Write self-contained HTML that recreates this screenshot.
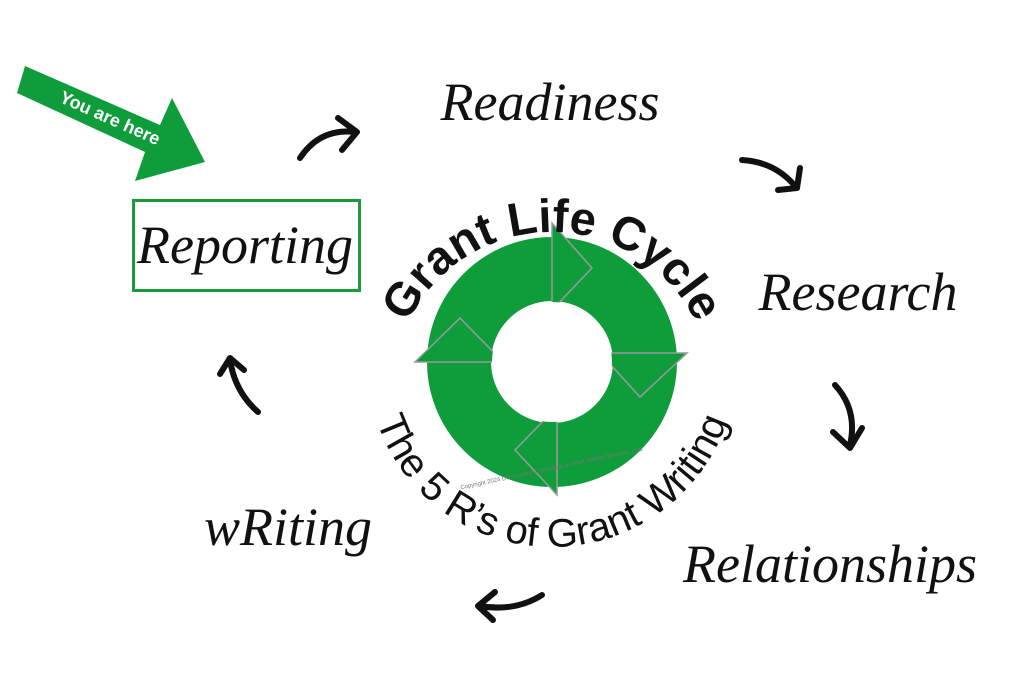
<!DOCTYPE html>
<html><head><meta charset="utf-8"><style>
html,body{margin:0;padding:0;background:#fff;}
svg{display:block}
.c{font-family:"Liberation Serif",serif;font-style:italic;fill:#111;}
</style></head><body>
<svg width="1024" height="692" viewBox="0 0 1024 692" xmlns="http://www.w3.org/2000/svg">
<defs>
<path id="top" d="M 392 392 A 160 160 0 0 1 712 392"/>
<path id="bot" d="M 367 362 A 185 185 0 0 0 737 362"/>
</defs>
<polygon points="25,66 160,125 172,98 205,162 135,181 145,152 17,93" fill="#0f9d3c"/>
<text x="110" y="124" transform="rotate(24 110 118)" text-anchor="middle" font-family="Liberation Sans,sans-serif" font-weight="bold" font-size="18" fill="#fff">You are here</text>
<rect x="133.5" y="200.5" width="226" height="90" fill="none" stroke="#1a9a3a" stroke-width="3"/>
<text class="c" x="245" y="263" font-size="54" text-anchor="middle">Reporting</text>
<text class="c" x="550" y="120" font-size="54" text-anchor="middle">Readiness</text>
<text class="c" x="858" y="310" font-size="54" text-anchor="middle">Research</text>
<text class="c" x="830" y="582" font-size="54" text-anchor="middle">Relationships</text>
<text class="c" x="288" y="545" font-size="54" text-anchor="middle">wRiting</text>
<circle cx="552" cy="362" r="93" fill="none" stroke="#0f9d3c" stroke-width="64"/>
<g fill="#0f9d3c" stroke="#9a9a9a" stroke-width="1.5">
<polygon points="552,223 592,268 552,310"/>
<polygon points="600,353 687,353 640,397"/>
<polygon points="557,407 557,495 515,450"/>
<polygon points="415,362 503,362 460,318"/>
</g>
<circle cx="552" cy="362" r="60" fill="#fff"/>
<text font-family="Liberation Sans,sans-serif" font-weight="bold" font-size="47" fill="#111"><textPath href="#top" startOffset="50%" text-anchor="middle">Grant Life Cycle</textPath></text>
<text font-family="Liberation Sans,sans-serif" font-size="40" fill="#111"><textPath href="#bot" startOffset="50%" text-anchor="middle">The 5 R’s of Grant Writing</textPath></text>
<text x="552" y="470" transform="rotate(-12 552 470)" text-anchor="middle" font-family="Liberation Sans,sans-serif" font-size="6" fill="#777">Copyright 2024 DH Leonard Consulting &amp; Grant Writing Services, LLC</text>
<g fill="none" stroke="#111" stroke-width="6" stroke-linecap="round" stroke-linejoin="round">
<path d="M300 158 Q320 128 355 132"/><path d="M338 118 L357 132 L342 150"/>
<path d="M742 160 Q775 162 795 186"/><path d="M778 190 L797 188 L800 168"/>
<path d="M835 385 Q858 410 850 445"/><path d="M833 432 L850 448 L862 428"/>
<path d="M542 595 Q515 612 480 606"/><path d="M495 592 L478 606 L493 620"/>
<path d="M258 412 Q235 392 230 360"/><path d="M220 374 L230 358 L244 370"/>
</g>
</svg>
</body></html>
